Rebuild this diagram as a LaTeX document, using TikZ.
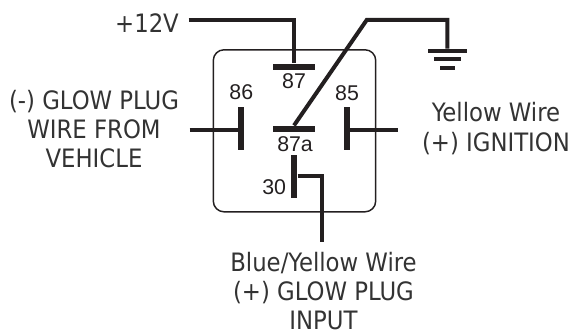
\documentclass[tikz,border=0pt]{standalone}
\usepackage{fontspec}
\setmainfont{DejaVu Sans Condensed}
\newfontfamily\pinfont{Liberation Sans}
\usepackage{tikz}
\usetikzlibrary{positioning}
\definecolor{wirecol}{HTML}{231F20}
\definecolor{textcol}{HTML}{333333}
\tikzstyle{wire} = [line width=3pt,draw=wirecol]
\tikzstyle{hbar} = [fill=wirecol,inner sep=0pt,minimum width=32pt,minimum height=4.5pt]
\tikzstyle{vbar} = [fill=wirecol,inner sep=0pt,minimum width=4.5pt,minimum height=32pt]
\tikzstyle{gbar} = [fill=wirecol,inner sep=0pt,minimum height=3pt]
\tikzstyle{pinlabel} = [inner sep=0pt,font=\pinfont\fontsize{16pt}{18pt}\selectfont,text=wirecol]
\tikzstyle{caption} = [align=center,inner sep=0pt,text=textcol,font=\fontsize{19pt}{22pt}\selectfont]

\begin{document}
\begin{tikzpicture}[x=0.75pt,y=-0.75pt]
	\useasboundingbox (0,0) rectangle (571,335);
	\node[draw=wirecol, line width=1.1pt, rounded corners=8pt, minimum width=121.8pt, minimum height=121.5pt, inner sep=0pt] (relay) at (294.5,130.8) {};
	\node[hbar] (pin87) at (294,66.7) {};
	\node[hbar] (pin87a) at (294,128.7) {};
	\node[vbar] (pin86) at (241.3,128.3) {};
	\node[vbar] (pin85) at (347,128.3) {};
	\node[vbar] (pin30) at (294.3,176.3) {};
	\node[gbar, minimum width=29pt] (gnd1) at (447.3,51) {};
	\node[gbar, minimum width=20pt, below=2.8pt of gnd1] (gnd2) {};
	\node[gbar, minimum width=11.5pt, below=2.8pt of gnd2] (gnd3) {};
	\node[pinlabel, below=2.8pt of pin87] (label87) {87};
	\node[pinlabel, above=5.3pt of pin86] (label86) {86};
	\node[pinlabel, above=4pt of pin85] (label85) {85};
	\node[pinlabel, below=3pt of pin87a, xshift=0.8pt] (label87a) {87a};
	\node[pinlabel, left=3.5pt of pin30, yshift=-8.5pt] (label30) {30};
	\node[caption] (supply) at (147,23) {+12V};
	\node[caption] (vehicle) at (94,129) {(-) GLOW PLUG\\WIRE FROM\\VEHICLE};
	\node[caption] (ignition) at (496,128.5) {Yellow Wire\\(+) IGNITION};
	\node[caption] (input) at (323.5,291) {Blue/Yellow Wire\\(+) GLOW PLUG\\INPUT};
	\coordinate (supplyend) at (188.5,20);
	\coordinate (kink) at (366.7,20);
	\coordinate (vehicleend) at (189.5,129.5);
	\coordinate (ignitionend) at (398.3,129.5);
	\coordinate (inputend) at (321.7,241.7);
	\draw[wire] (supplyend) -| (pin87);
	\draw[wire] (pin87a.north) -- (kink) -| (gnd1);
	\draw[wire] (vehicleend) -- (vehicleend -| pin86);
	\draw[wire] (ignitionend -| pin85) -- (ignitionend);
	\draw[wire] (pin30) -| (inputend);
\end{tikzpicture}
\end{document}
